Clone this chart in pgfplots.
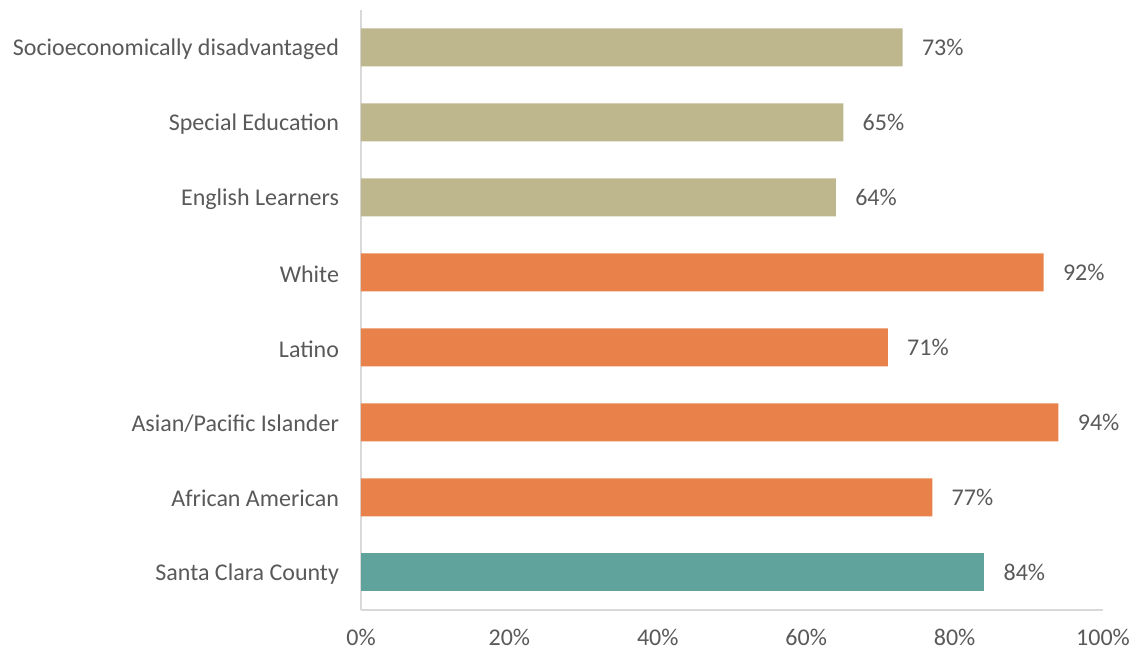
\documentclass[border=0pt]{standalone}
\usepackage{pgfplots}
\pgfplotsset{compat=1.18}
\usepackage{fontspec}
\setmainfont{Carlito}
\definecolor{tan}{HTML}{BEB78E}
\definecolor{orng}{HTML}{E8824A}
\definecolor{teal2}{HTML}{5FA39C}
\definecolor{txt}{HTML}{595959}
\definecolor{axl}{HTML}{D9D9D9}
\begin{document}
\begin{tikzpicture}[x=0.75pt,y=0.75pt]
\useasboundingbox (-361,-46) rectangle (774,610);
\begin{axis}[
  at={(0,0)}, anchor=south west,
  scale only axis,
  width=556.5pt, height=450pt,
  xbar, bar shift=0pt, bar width=28.5pt,
  xmin=0, xmax=100, ymin=-0.5, ymax=7.5,
  axis x line*=bottom, axis y line*=left,
  axis line style={draw=axl, line width=1.2pt, -},
  major tick length=0pt,
  xtick={0,20,40,60,80,100},
  xticklabel={\pgfmathprintnumber{\tick}\%},
  /pgf/number format/assume math mode=true,
  ytick={0,1,2,3,4,5,6,7},
  yticklabels={Santa Clara County, African American, Asian/Pacific Islander, Latino, White, English Learners, Special Education, Socioeconomically disadvantaged},
  tick label style={font=\fontsize{18}{21}\selectfont, text=txt},
  x tick label style={yshift=-11pt},
  y tick label style={xshift=-13pt, yshift=-1pt},
  nodes near coords={\pgfmathprintnumber{\pgfplotspointmeta}\%},
  point meta=x,
  every node near coord/.append style={font=\fontsize{18}{21}\selectfont, text=txt, anchor=west, xshift=11pt, /pgf/number format/assume math mode=true},
  clip=false,
]
\addplot[fill=teal2, draw=none] coordinates {(84,0)};
\addplot[fill=orng, draw=none] coordinates {(77,1) (94,2) (71,3) (92,4)};
\addplot[fill=tan, draw=none] coordinates {(64,5) (65,6) (73,7)};
\end{axis}
\end{tikzpicture}
\end{document}
